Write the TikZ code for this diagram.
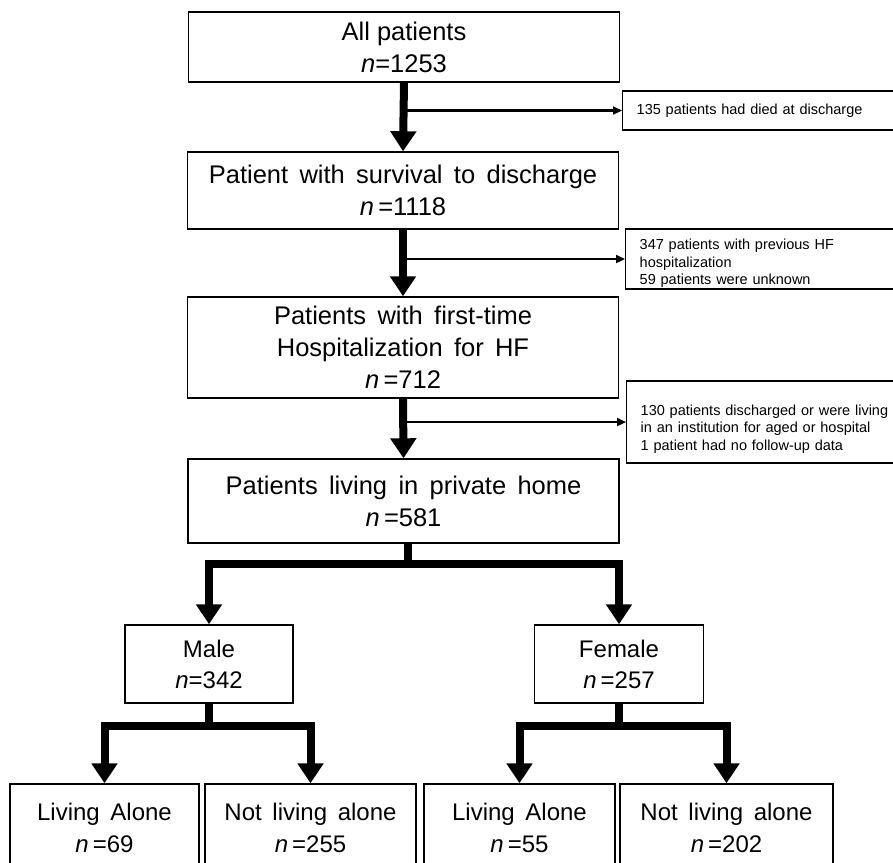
\documentclass[tikz,border=0pt]{standalone}
\usepackage{fontspec}
\setmainfont{Liberation Sans}
\usetikzlibrary{arrows.meta,calc}
\tikzset{
  mainbox/.style={draw, line width=1.4pt, minimum width=431pt, align=center, inner sep=0pt,
    font=\fontsize{25.5}{32}\selectfont},
  midbox/.style={draw, line width=1.4pt, minimum height=78pt, align=center, inner sep=0pt,
    font=\fontsize{24}{31}\selectfont},
  lowbox/.style={draw, line width=1.4pt, minimum height=88pt, align=center, inner sep=0pt,
    font=\fontsize{24}{32}\selectfont},
  sidebox/.style={draw, line width=1.4pt, anchor=west, minimum width=290pt, text width=262pt,
    align=left, inner xsep=14pt, inner ysep=0pt, font=\fontsize{14.5}{17.5}\selectfont},
  bigarrow/.style={line width=8pt, -{Triangle[width=25pt,length=20pt]}},
  thinarrow/.style={line width=2.2pt, -{Triangle[width=8pt,length=9pt]}}
}
\begin{document}
\begin{tikzpicture}[x=1pt,y=-1pt]
\useasboundingbox (0,0) rectangle (893,862);
\fill[white] (0,0) rectangle (893,862);

\node[mainbox, minimum height=70pt] (b1) at (404,47) {All patients\\\textit{n}=1253};
\node[mainbox, minimum height=77pt] (b2) at (403,190.5) {Patient\, with\, survival\, to\, discharge\\\textit{n}\,=1118};
\node[mainbox, minimum height=101pt] (b3) at (403,347.5) {Patients\, with\, first-time\\Hospitalization\, for\, HF\\\textit{n}\,=712};
\node[mainbox, minimum height=84pt] (b4) at (403.5,501) {Patients\, living\, in\, private\, home\\\textit{n}\,=581};

\node[sidebox, minimum height=39pt] (s1) at (622,110.5) {135 patients had died at discharge};
\node[sidebox, minimum height=60pt] (s2) at (625,259) {\rule{0pt}{19pt}347 patients with previous HF\\hospitalization\\59 patients were unknown};
\node[sidebox, minimum height=82pt] (s3) at (626,422) {\rule{0pt}{24pt}130 patients discharged or were living\\in an institution for aged or hospital\\1 patient had no follow-up data};

\node[midbox, minimum width=168pt] (male) at (209,664) {Male\\\textit{n}=342};
\node[midbox, minimum width=169pt] (female) at (619,664) {Female\\\textit{n}\,=257};

\node[lowbox, minimum width=189pt] (la1) at (104.5,828) {Living\, Alone\\\textit{n}\,=69};
\node[lowbox, minimum width=211pt] (nla1) at (310.5,828) {Not\, living\, alone\\\textit{n}\,=255};
\node[lowbox, minimum width=191pt] (la2) at (519.5,828) {Living\, Alone\\\textit{n}\,=55};
\node[lowbox, minimum width=213pt] (nla2) at (726.5,828) {Not\, living\, alone\\\textit{n}\,=202};

\draw[bigarrow] (b1.south) -- (b2.north);
\draw[bigarrow] (b2.south) -- (b3.north);
\draw[bigarrow] (b3.south) -- (b4.north);
\draw[thinarrow] (b1.south |- s1.west) -- (s1.west);
\draw[thinarrow] (b2.south |- s2.west) -- (s2.west);
\draw[thinarrow] (b3.south |- s3.west) -- (s3.west);

\draw[bigarrow] ($(b4.south)+(4,0)$) -- ++(0,20) -| (male.north);
\draw[bigarrow] ($(b4.south)+(4,0)$) -- ++(0,20) -| (female.north);
\draw[bigarrow] (male.south) -- ++(0,22) -| (la1.north);
\draw[bigarrow] (male.south) -- ++(0,22) -| (nla1.north);
\draw[bigarrow] (female.south) -- ++(0,22) -| (la2.north);
\draw[bigarrow] (female.south) -- ++(0,22) -| (nla2.north);
\end{tikzpicture}
\end{document}
